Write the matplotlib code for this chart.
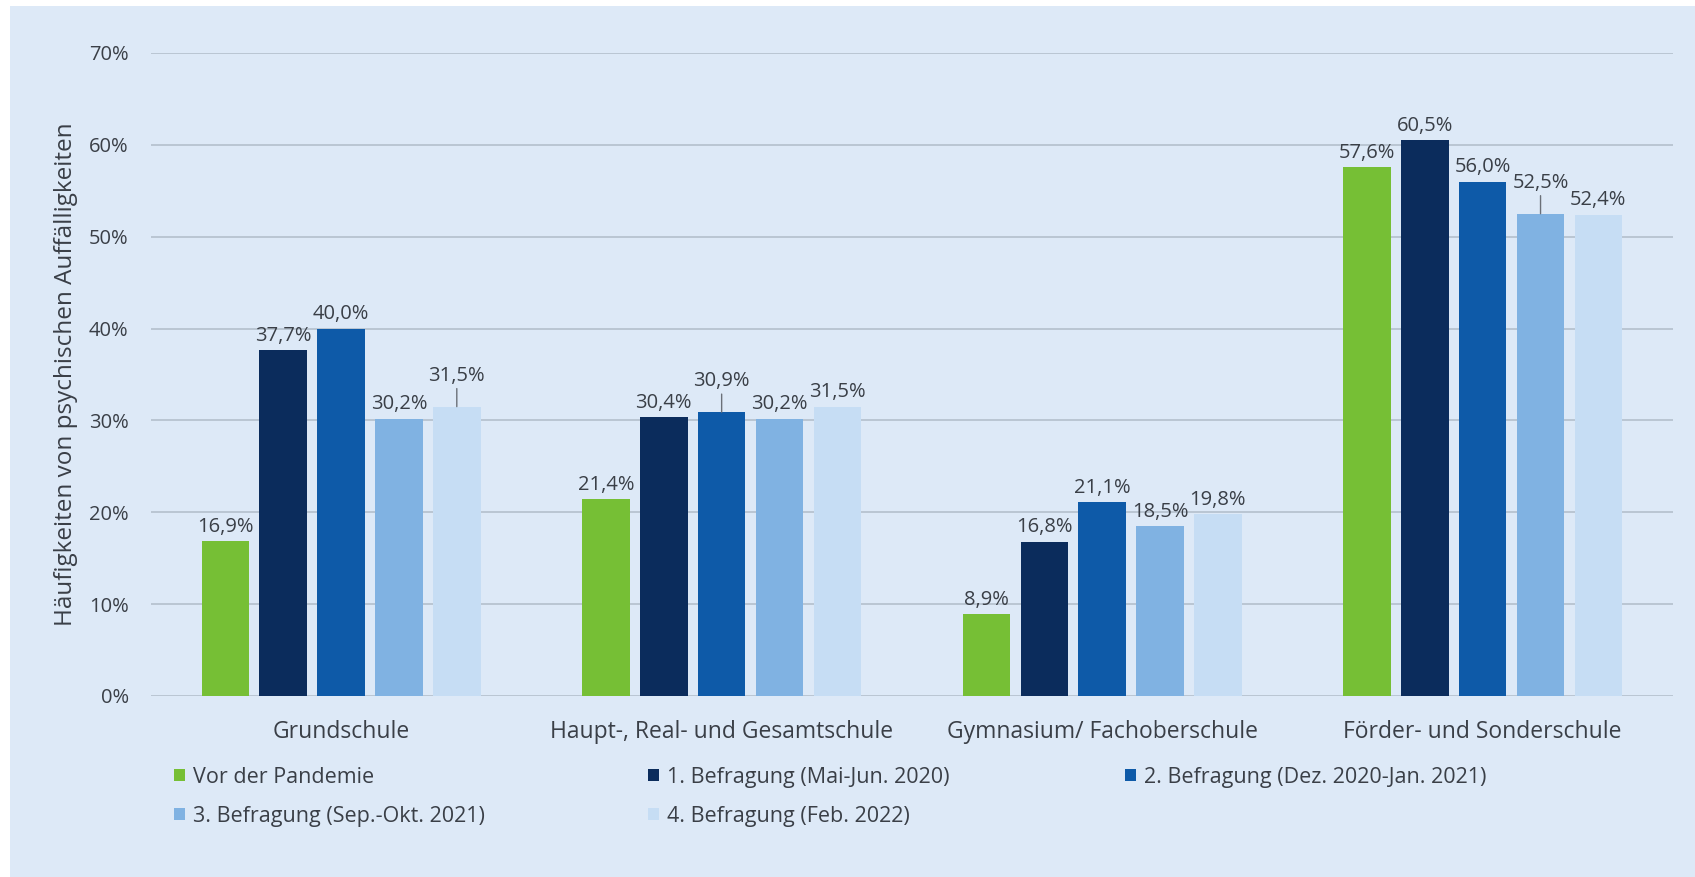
import matplotlib.pyplot as plt
from matplotlib.patches import Rectangle
import numpy as np

plt.rcParams['font.family'] = ['Open Sans', 'DejaVu Sans']

categories = ['Grundschule', 'Haupt-, Real- und Gesamtschule', 'Gymnasium/ Fachoberschule', 'Förder- und Sonderschule']
series = ['Vor der Pandemie', '1. Befragung (Mai-Jun. 2020)', '2. Befragung (Dez. 2020-Jan. 2021)',
          '3. Befragung (Sep.-Okt. 2021)', '4. Befragung (Feb. 2022)']
values = [
    [16.9, 21.4, 8.9, 57.6],
    [37.7, 30.4, 16.8, 60.5],
    [40.0, 30.9, 21.1, 56.0],
    [30.2, 30.2, 18.5, 52.5],
    [31.5, 31.5, 19.8, 52.4],
]
colors = ['#76bf35', '#0b2c5c', '#0e5aa8', '#80b2e2', '#c6ddf4']
# labels lifted higher with a leader line: (series, category)
lifted = {(4, 0), (2, 1), (3, 3)}

bg = '#dde9f7'
txt = '#3a3f47'

fig = plt.figure(figsize=(16.95, 8.77), dpi=100, facecolor='white')
fig.patches.append(Rectangle((10 / 1695, 0), 1, 1 - 6 / 877, transform=fig.transFigure,
                             facecolor=bg, edgecolor='none', zorder=-10))
ax = fig.add_axes([0.089, 0.2064, 0.898, 0.7332])
ax.set_facecolor('none')

x = np.arange(len(categories))
step = 0.152
width = 0.125
for i, (name, vals, c) in enumerate(zip(series, values, colors)):
    xs = x + (i - 2) * step
    ax.bar(xs, vals, width, color=c, label=name, zorder=3)
    for j, (xx, v) in enumerate(zip(xs, vals)):
        lab = f'{v:.1f}%'.replace('.', ',')
        if (i, j) in lifted:
            ax.annotate(lab, xy=(xx, v), xytext=(0, 15), textcoords='offset points',
                        ha='center', va='bottom', fontsize=14.5, color=txt,
                        arrowprops=dict(arrowstyle='-', color='#6b7078', lw=1, shrinkA=0, shrinkB=0))
        else:
            ax.annotate(lab, xy=(xx, v), xytext=(0, 3), textcoords='offset points',
                        ha='center', va='bottom', fontsize=14.5, color=txt)

ax.set_xlim(-0.5, 3.5)
ax.set_ylim(0, 70)
ax.set_yticks(np.arange(0, 71, 10))
ax.set_yticklabels([f'{t}%' for t in range(0, 71, 10)])
ax.set_xticks(x)
ax.set_xticklabels(categories)
ax.tick_params(axis='y', length=0, pad=16, labelsize=14.5, labelcolor=txt)
ax.tick_params(axis='x', length=0, pad=17, labelsize=16.5, labelcolor=txt)
ax.grid(axis='y', color='#b3bfcc', linewidth=1.2, zorder=0)
for s in ax.spines.values():
    s.set_visible(False)
ax.set_ylabel('Häufigkeiten von psychischen Auffälligkeiten', fontsize=17.5, color=txt, labelpad=8)

handles, labels = ax.get_legend_handles_labels()
# one legend per column, placed like the original
columns = [[0, 3], [1, 4], [2]]
col_x = [174, 648, 1125]
for col, px in zip(columns, col_x):
    fig.legend([handles[k] for k in col], [labels[k] for k in col],
               loc='upper left', bbox_to_anchor=(px / 1695, 1 - 767 / 877),
               frameon=False, borderpad=0, borderaxespad=0,
               fontsize=15.5, handlelength=0.5, handleheight=0.5, handletextpad=0.4,
               labelspacing=0.82, labelcolor=txt)

fig.savefig('out.png', dpi=100, facecolor=fig.get_facecolor())
